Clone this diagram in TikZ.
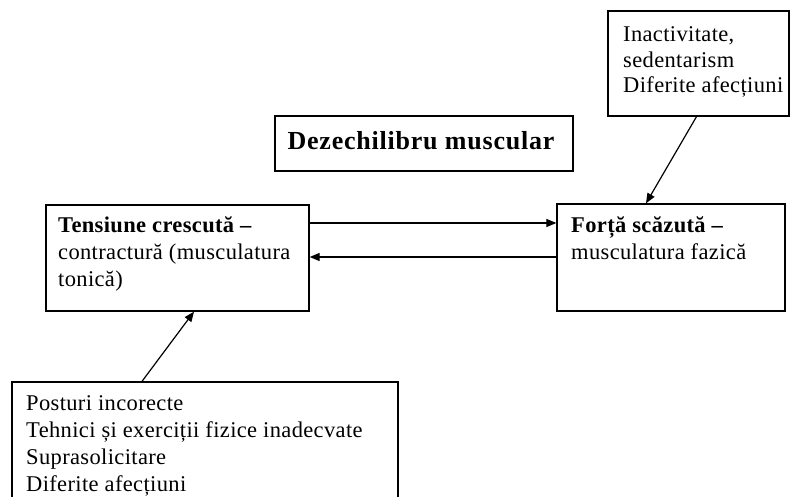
\documentclass[tikz,border=0pt]{standalone}
\usepackage{fontspec}
\setmainfont{Liberation Serif}
\usetikzlibrary{arrows.meta}
\newcommand\mystack[2]{\vtop{\baselineskip=#1\relax #2}}
\begin{document}
\begin{tikzpicture}[x=1pt,y=-1pt,
  box/.style={draw, line width=1.3pt, inner sep=0pt, minimum width=#1},
  txt/.style={anchor=base west, inner sep=0pt, font=\fontsize{22.5}{27}\selectfont\addfontfeatures{LetterSpace=1.6}},
  arr/.style={line width=1.2pt, -{Triangle[length=10pt,width=8pt]}}]
\clip (0,0) rectangle (790,497);
\fill[white] (0,0) rectangle (790,497);
% boxes
\node[box=181pt, minimum height=105pt] (top) at (698.5,63.5) {};
\node[box=298pt, minimum height=55pt] (title) at (424,143.5) {};
\node[box=263pt, minimum height=106pt] (left) at (177.5,258) {};
\node[box=228pt, minimum height=107pt] (right) at (671,257.5) {};
\node[box=386pt, minimum height=140pt] (bottom) at (205,452) {};
% texts
\node[txt] (ttop) at (623,42) {\mystack{25.5pt}{\hbox{Inactivitate,}\hbox{sedentarism}\hbox{Diferite afecțiuni}}};
\node[anchor=base, inner sep=0pt, font=\fontsize{26}{30}\selectfont\bfseries\addfontfeatures{LetterSpace=3}] (ttitle) at (421,150) {Dezechilibru muscular};
\node[txt] (tleft) at (58,233) {\mystack{27pt}{\hbox{\textbf{Tensiune crescută –}}\hbox{contractură (musculatura}\hbox{tonică)}}};
\node[txt] (tright) at (571,233) {\mystack{27pt}{\hbox{\textbf{Forță scăzută –}}\hbox{musculatura fazică}}};
\node[txt] (tbottom) at (26,410) {\mystack{27.3pt}{\hbox{Posturi incorecte}\hbox{Tehnici și exerciții fizice inadecvate}\hbox{Suprasolicitare}\hbox{Diferite afecțiuni}}};
% connectors
\draw[arr] ([yshift=35pt]left.east) -- ([yshift=34.5pt]right.west);
\draw[arr] ([yshift=0.5pt]right.west) -- ([yshift=1pt]left.east);
\draw[arr] ([xshift=-2pt]top.south) -- ([xshift=-25pt]right.north);
\draw[arr] ([xshift=-63pt]bottom.north) -- ([xshift=16.5pt]left.south);
\end{tikzpicture}
\end{document}
